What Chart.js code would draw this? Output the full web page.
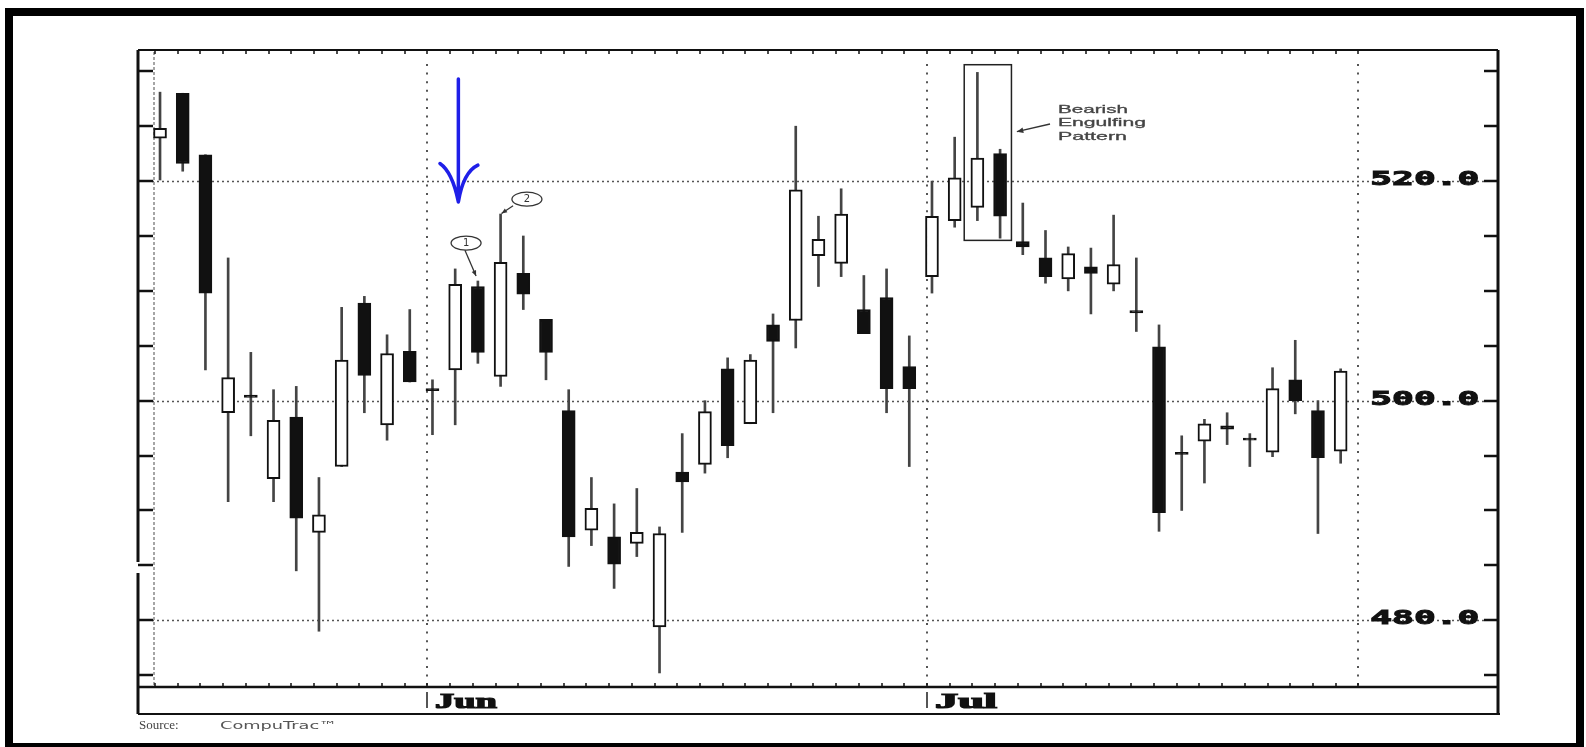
<!DOCTYPE html>
<html lang="en">
<head>
  <meta charset="UTF-8" />
  <title>Daily candlesticks - Bearish Engulfing Pattern</title>
  <script src="https://cdn.jsdelivr.net/npm/chart.js"></script>
  <style>
    html, body { margin: 0; padding: 0; background: #fff; }
    #wrap { width: 1586px; height: 747px; }
  </style>
</head>
<body>
  <div id="wrap"><canvas id="candles" width="1586" height="747"></canvas></div>

  <script>
    // daily bars (late May to late July)
    const opens  = [523.9, 528.0, 522.4, 498.9, 500.5, 492.9, 498.5, 488.0, 494.0, 508.9, 497.8, 504.5,
                    501.1, 502.8, 510.4, 502.2, 511.6, 507.4, 499.1, 488.2, 487.6, 487.0, 479.4, 493.5,
                    494.2, 502.9, 497.9, 506.9, 507.3, 513.2, 512.5, 508.3, 509.4, 503.1,
                    511.3, 516.4, 517.6, 522.5, 514.5, 513.0, 511.1, 512.2, 510.6, 508.2, 504.9, 495.3,
                    496.3, 497.7, 496.6, 495.3, 501.9, 499.1, 495.4];
    const highs  = [528.1, 528.0, 522.4, 513.0, 504.4, 501.0, 501.3, 493.0, 508.5, 509.5, 506.0, 508.3,
                    501.9, 512.0, 510.9, 517.0, 515.0, 507.4, 501.0, 493.0, 490.6, 492.0, 488.5, 497.0,
                    500.0, 503.9, 504.2, 507.9, 525.0, 516.8, 519.3, 511.4, 512.0, 505.9,
                    520.0, 524.0, 529.9, 522.9, 518.0, 515.5, 514.0, 513.9, 516.9, 513.0, 506.9, 496.8,
                    498.3, 498.9, 497.0, 503.0, 505.5, 500.0, 502.9];
    const lows   = [520.1, 520.9, 502.8, 490.8, 496.8, 490.8, 484.5, 479.0, 494.0, 498.9, 496.4, 501.7,
                    496.9, 497.8, 503.4, 501.3, 508.3, 501.9, 484.9, 486.8, 482.9, 485.8, 475.2, 488.0,
                    493.4, 494.8, 497.9, 498.9, 504.8, 510.4, 511.3, 506.1, 498.9, 494.0,
                    509.8, 515.8, 516.4, 514.8, 513.3, 510.7, 510.0, 507.9, 510.0, 506.3, 488.1, 490.0,
                    492.5, 496.0, 494.0, 494.9, 498.8, 487.9, 494.3];
    const closes = [524.8, 521.6, 509.8, 502.1, 500.3, 498.2, 489.3, 489.6, 503.7, 502.3, 504.3, 501.7,
                    500.9, 510.6, 504.4, 512.6, 509.7, 504.4, 487.6, 490.2, 485.1, 488.0, 487.9, 492.6,
                    499.0, 495.9, 503.7, 505.4, 519.2, 514.7, 517.0, 506.1, 501.1, 501.1,
                    516.8, 520.3, 522.1, 516.8, 514.0, 511.3, 513.4, 511.6, 512.4, 508.0, 489.8, 495.1,
                    497.9, 497.4, 496.4, 501.1, 500.0, 494.8, 502.7];

    const yTickLabels = [480, 500, 520];
    const monthLabels = ['Jun', 'Jul'];
    const monthStarts = [12, 34];   // first bar of each month
    const lastSlot = 53;            // dotted line after the last bar

    // annotation anchors, in bar index / price units
    const engulfBox = { from: 35.42, to: 37.5, low: 514.6, high: 530.6 };
    const engulfText = ['Bearish', 'Engulfing', 'Pattern'];

    const idx = opens.map((_, i) => i);
    const bodyColors = idx.map(i => closes[i] >= opens[i] ? '#ffffff' : '#111111');

    // text squeezed/stretched to a given width, optional stroke to make it heavier
    function wideText(ctx, text, x, y, font, width, align, heavy) {
      ctx.save();
      ctx.font = font;
      const k = width / ctx.measureText(text).width;
      ctx.translate(x, y);
      ctx.scale(k, 1);
      ctx.textAlign = align;
      ctx.fillText(text, 0, 0);
      if (heavy) {
        ctx.strokeStyle = ctx.fillStyle;
        ctx.lineWidth = heavy;
        ctx.strokeText(text, 0, 0);
      }
      ctx.restore();
    }

    function arrowHead(ctx, x0, y0, x1, y1, len) {
      const a = Math.atan2(y1 - y0, x1 - x0);
      ctx.beginPath();
      ctx.moveTo(x1, y1);
      ctx.lineTo(x1 - len * Math.cos(a - 0.4), y1 - len * Math.sin(a - 0.4));
      ctx.lineTo(x1 - len * Math.cos(a + 0.4), y1 - len * Math.sin(a + 0.4));
      ctx.closePath();
      ctx.fill();
    }

    const chartDecor = {
      id: 'chartDecor',
      beforeDraw(chart) {
        const ctx = chart.ctx;
        ctx.save();
        ctx.fillStyle = '#fff';
        ctx.fillRect(0, 0, chart.width, chart.height);
        ctx.restore();
      },
      beforeDatasetsDraw(chart) {
        const ctx = chart.ctx, a = chart.chartArea;
        const xs = chart.scales.x, ys = chart.scales.y;
        ctx.save();
        // dotted price lines
        ctx.strokeStyle = '#555';
        ctx.lineWidth = 1.6;
        ctx.setLineDash([2, 3]);
        yTickLabels.forEach(v => {
          const y = Math.round(ys.getPixelForValue(v)) + 0.5;
          ctx.beginPath();
          ctx.moveTo(a.left + 14, y);
          ctx.lineTo(a.right - 14, y);
          ctx.stroke();
        });
        // dotted month lines
        ctx.lineWidth = 2;
        ctx.setLineDash([2, 6.6]);
        monthStarts.concat([lastSlot]).forEach(i => {
          const x = Math.round(xs.getPixelForValue(i - 0.22));
          ctx.beginPath();
          ctx.moveTo(x, a.top + 14);
          ctx.lineTo(x, a.bottom);
          ctx.stroke();
        });
        // faint inner line on the left
        ctx.strokeStyle = '#888';
        ctx.lineWidth = 1.5;
        ctx.setLineDash([3, 2]);
        const xl = Math.round(xs.getPixelForValue(-0.22)) - 1;
        ctx.beginPath();
        ctx.moveTo(xl, a.top + 2);
        ctx.lineTo(xl, a.bottom);
        ctx.stroke();
        ctx.restore();
      },
      afterDraw(chart) {
        const ctx = chart.ctx, a = chart.chartArea;
        const xs = chart.scales.x, ys = chart.scales.y;
        const px = v => xs.getPixelForValue(v), py = v => ys.getPixelForValue(v);
        const band = a.bottom + 27;
        ctx.save();

        // outer frame of the figure
        ctx.strokeStyle = '#000';
        ctx.lineWidth = 8;
        ctx.strokeRect(9, 12, 1571, 735);

        // plot frame
        ctx.strokeStyle = '#111';
        ctx.lineWidth = 2;
        ctx.beginPath();
        ctx.moveTo(a.left, a.top); ctx.lineTo(a.right, a.top);
        ctx.moveTo(a.left, band); ctx.lineTo(a.right + 2, band);
        ctx.stroke();
        ctx.lineWidth = 2.6;
        ctx.beginPath();
        ctx.moveTo(a.left, a.bottom); ctx.lineTo(a.right, a.bottom);
        ctx.stroke();
        ctx.lineWidth = 3;
        ctx.beginPath();
        ctx.moveTo(a.left, a.top); ctx.lineTo(a.left, py(485.3));
        ctx.moveTo(a.left, py(484.3)); ctx.lineTo(a.left, band);
        ctx.moveTo(a.right, a.top); ctx.lineTo(a.right, band + 1);
        ctx.stroke();

        // price ticks, every 5 on both sides
        ctx.lineWidth = 2.4;
        for (let v = 475; v <= 530; v += 5) {
          const y = Math.round(py(v));
          ctx.beginPath();
          ctx.moveTo(a.left, y); ctx.lineTo(a.left + 15, y);
          ctx.moveTo(a.right - 14, y); ctx.lineTo(a.right, y);
          ctx.stroke();
        }
        // day ticks on top and bottom
        ctx.lineWidth = 1.5;
        for (let i = 0; i <= lastSlot; i++) {
          const x = Math.round(px(i - 0.22));
          ctx.beginPath();
          ctx.moveTo(x, a.top); ctx.lineTo(x, a.top + 4);
          ctx.moveTo(x, a.bottom); ctx.lineTo(x, a.bottom - 4);
          ctx.stroke();
        }

        // price labels
        ctx.fillStyle = '#111';
        ctx.textBaseline = 'middle';
        yTickLabels.forEach(v => {
          wideText(ctx, v.toFixed(1), a.right - 18.7, py(v) - 1, 'bold 20px "DejaVu Sans Mono"', 109, 'right', 1);
        });

        // month labels in the band under the axis
        ctx.textBaseline = 'alphabetic';
        monthLabels.forEach((m, k) => {
          const x = Math.round(px(monthStarts[k] - 0.22));
          ctx.strokeStyle = '#555';
          ctx.lineWidth = 2;
          ctx.beginPath();
          ctx.moveTo(x, a.bottom + 5); ctx.lineTo(x, a.bottom + 21);
          ctx.stroke();
          wideText(ctx, m, x + 8, a.bottom + 20.5, 'bold 21px "Liberation Serif"', 62, 'left', 1.2);
        });

        // source line
        ctx.fillStyle = '#444';
        ctx.font = '13px "Liberation Serif"';
        ctx.textAlign = 'left';
        ctx.fillText('Source:', 139, 729);
        ctx.fillStyle = '#555';
        wideText(ctx, 'CompuTrac\u2122', 220, 729, '11px "DejaVu Sans"', 117, 'left');

        // blue arrow above the June rally
        const bx = px(13.14), tipY = py(518.1);
        ctx.strokeStyle = '#1f1fe8';
        ctx.lineWidth = 3.5;
        ctx.lineCap = 'round';
        ctx.beginPath();
        ctx.moveTo(bx, py(529.3)); ctx.lineTo(bx, tipY);
        ctx.moveTo(px(12.33), py(521.6)); ctx.quadraticCurveTo(bx - 6, tipY - 30, bx, tipY);
        ctx.moveTo(px(14.0), py(521.45)); ctx.quadraticCurveTo(bx + 5, tipY - 30, bx, tipY);
        ctx.stroke();
        ctx.lineCap = 'butt';

        // circled 1 and 2 with leaders
        ctx.strokeStyle = '#333';
        ctx.fillStyle = '#333';
        ctx.lineWidth = 1.3;
        [[13.48, 514.35, '1'], [16.16, 518.35, '2']].forEach(([cx, cy, t]) => {
          ctx.beginPath();
          ctx.ellipse(px(cx), py(cy), 15, 7, 0, 0, Math.PI * 2);
          ctx.stroke();
          ctx.font = '10px "DejaVu Sans"';
          ctx.textAlign = 'center';
          ctx.textBaseline = 'middle';
          ctx.fillText(t, px(cx), py(cy) + 0.5);
        });
        const leaders = [[13.43, 513.7, 13.92, highs[14] + 0.45], [15.55, 517.75, 15.04, highs[15] + 0.05]];
        leaders.forEach(([x0, y0, x1, y1]) => {
          ctx.beginPath();
          ctx.moveTo(px(x0), py(y0)); ctx.lineTo(px(x1), py(y1));
          ctx.stroke();
          arrowHead(ctx, px(x0), py(y0), px(x1), py(y1), 6);
        });

        // bearish engulfing box and label
        ctx.strokeStyle = '#222';
        ctx.lineWidth = 1.5;
        ctx.strokeRect(px(engulfBox.from), py(engulfBox.high),
          px(engulfBox.to) - px(engulfBox.from), py(engulfBox.low) - py(engulfBox.high));
        ctx.fillStyle = '#444';
        ctx.textBaseline = 'middle';
        const textW = [70, 88, 69];
        [526.5, 525.3, 524.05].forEach((v, k) => {
          wideText(ctx, engulfText[k], px(39.55), py(v), '11px "Liberation Sans"', textW[k], 'left', 0.3);
        });
        ctx.strokeStyle = '#333';
        ctx.lineWidth = 1.3;
        ctx.fillStyle = '#333';
        ctx.beginPath();
        ctx.moveTo(px(39.2), py(525.2)); ctx.lineTo(px(37.74), py(524.5));
        ctx.stroke();
        arrowHead(ctx, px(39.2), py(525.2), px(37.74), py(524.5), 7);

        ctx.restore();
      }
    };

    new Chart(document.getElementById('candles'), {
      type: 'bar',
      data: {
        datasets: [
          {
            label: 'body',
            data: idx.map(i => ({ x: i, y: [opens[i], closes[i]] })),
            backgroundColor: bodyColors,
            borderColor: '#111',
            borderWidth: 2,
            borderSkipped: false,
            barThickness: 13,
            grouped: false,
            order: 0
          },
          {
            label: 'wick',
            data: idx.map(i => ({ x: i, y: [lows[i], highs[i]] })),
            backgroundColor: '#444',
            borderWidth: 0,
            barThickness: 2,
            grouped: false,
            order: 1
          }
        ]
      },
      options: {
        responsive: false,
        animation: false,
        layout: { padding: { left: 138, top: 50, right: 88, bottom: 60 } },
        scales: {
          x: { type: 'linear', min: -0.97, max: 58.93, offset: false, display: false },
          y: { min: 473.92, max: 531.94, display: false }
        },
        plugins: {
          legend: { display: false },
          tooltip: { enabled: false }
        }
      },
      plugins: [chartDecor]
    });
  </script>
</body>
</html>
